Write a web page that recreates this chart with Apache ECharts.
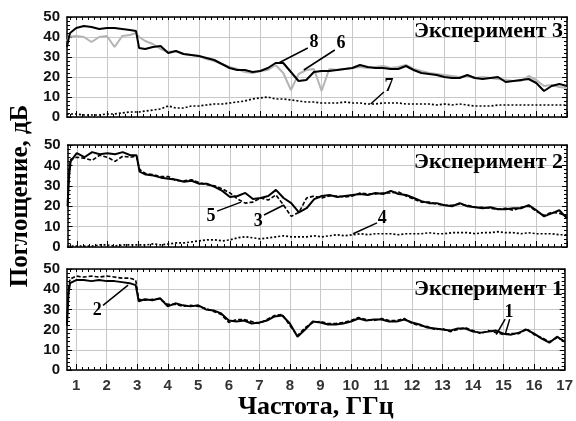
<!DOCTYPE html>
<html><head><meta charset="utf-8">
<script src="https://cdn.jsdelivr.net/npm/echarts@6/dist/echarts.min.js"></script>
<style>html,body{margin:0;padding:0;background:#fff}#c{width:576px;height:421px}</style>
</head><body><div id="c"></div>
<script>
// Frequency grid (GHz), shared by all curves
const freq = [0.7,0.75,0.8,1.0,1.25,1.5,1.75,2.0,2.25,2.5,2.75,2.95,3.05,3.25,3.5,3.75,4.0,4.25,4.5,4.75,5.0,5.25,5.5,5.75,6.0,6.25,6.5,6.75,7.0,7.25,7.5,7.75,8.0,8.25,8.5,8.75,9.0,9.25,9.5,9.75,10.0,10.25,10.5,10.75,11.0,11.25,11.5,11.75,12.0,12.25,12.5,12.75,13.0,13.25,13.5,13.75,14.0,14.25,14.5,14.75,15.0,15.25,15.5,15.75,16.0,16.25,16.5,16.75,17.0];

// Эксперимент 3 (top)
const exp3_curve8 = [35,39,42,44.5,45.5,45,44,44.5,44.5,44,43.5,43,34.5,34,35,35.5,32,33,31.5,31,30.5,29.5,28.5,26.5,24.5,23.5,23.5,22.5,23,24.5,27,27,22.5,18,18.5,22.5,23,23,23.5,24,24.5,26,25,24.5,24.5,24,24,25.5,23.5,22,21.5,21,20,19.5,19.5,21,19.5,19,19.5,20,17.5,18,18.5,19,17,13,15.5,16.5,15.5];
const exp3_curve6 = [38,40,41,40.5,40,37.5,40,40.5,35,40.5,41,42,40,38,36.5,34,32.5,33,31.5,31,30.5,29,28,26.5,25,24,22.5,22,23,23.5,26,22,13.5,21.5,23.5,24,13,24,23.5,24,24.5,25,24.5,25,25.5,24.5,25,26,24,23,22,21.5,21,20.5,20,20.5,19.5,20,19.5,19,18.5,18,18,20.5,18.5,15.5,16,15,14.5];
const exp3_curve7 = [1.5,1.5,1.5,1.5,1,1,1,1.5,1.5,2,2.5,2.5,2.5,3,3.5,4,5.5,4.5,4.5,5.5,5.5,6,6.5,6.5,7,7.5,8,9,9.5,10,9,9,8.5,8,7.5,7.5,7,7,7,7.5,7,7,6.5,6.5,7,7,7,6.5,6.5,6.5,6.5,6,6.5,6,6.5,6,5.5,5.5,5.5,6,6,6,6,6,6,6,6,6,6];

// Эксперимент 2 (middle)
const exp2_solid = [20,35,42,46,44,46.5,45.5,46,45.5,46.5,45,45,37,35.5,35,34,33.5,33,32,32.5,31,31,29.5,27.5,24.5,25,26.5,23.5,24,25,28,24,21.5,17,19,23.5,25,25.5,24.5,25,25.5,26,25.5,26.5,26,27.5,26,25.5,24,22.5,21.5,21.5,20.5,20,21.5,20,19.5,19,19.5,18.5,18.5,19,19,20.5,18,15,16.5,18,14];
const exp2_dashed = [22,38,43,44,43.5,42.5,45,44,42,44.5,44,44.5,38,36,35.5,34.5,34.5,32.5,32.5,33,31.5,30.5,30,28.5,26.5,23.5,21.5,22,24,23,25.5,20.5,15,17,24,25,24,25,25,24.5,25,26.5,26,26,26.5,26.5,27,25,23.5,22,22,21,20.5,20.5,21,20.5,19.5,19.5,19,18.5,19,18,19.5,20,17.5,15.5,17,16.5,15];
const exp2_dotted = [0.5,0.5,0.5,0.5,0.5,0.5,1,1,0.5,1,1,1,1,1,1.5,1,1.5,2,2,2.5,3,3.5,3.5,3,3.5,4.5,5,4.5,4,4.5,5,5.5,5,5,5,5.5,5,5.5,6,5.5,6,6.5,6,6.5,6.5,6.5,6,6.5,6.5,6.5,7,6.5,6.5,7,7,7,6.5,7,7,7.5,7,7,6.5,7,6.5,6.5,6.5,6,6];

// Эксперимент 1 (bottom)
const exp1_solid = [23,38,43,44.5,44.5,44,44.5,44,44,43.5,43,42,34,35,34.5,35.5,31.5,33,32,31.5,32,30,29.5,28,24.5,24,24.5,23,23.5,24.5,26.5,27,23,16.5,20,24,23.5,22.5,22.5,23,24,25.5,24.5,25,25,24,24,25,23.5,22.5,21,20.5,20,19.5,20.5,20.5,19,18.5,19,19.5,18,17.5,18.5,20,18,15.5,13.5,16.5,14];
const exp1_dashed = [22,40,45,46.5,46,46.5,46,46.5,46,45.5,45.5,44.5,35,34.5,35,35,32.5,32.5,31.5,32,31.5,30.5,29,27.5,23.5,25,25,24,23,25,27,27.5,22,17,21,23.5,24,23,23,23.5,24.5,26,25,24.5,25.5,24.5,24.5,25.5,23,22,21.5,20,20.5,19,20,21,19.5,18,19.5,18.5,17.5,18,18,20.5,17.5,16,14,16,14.5];

// Axis ticks
const xTickLabels = [1,2,3,4,5,6,7,8,9,10,11,12,13,14,15,16,17];
const yTicks = [0,10,20,30,40,50];
const panelTitles = ['Эксперимент 3','Эксперимент 2','Эксперимент 1'];

// Curve-number callouts: [label, label position, leader start, leader end] in data units
const notes3 = [['8',[8.75,37.5],[8.55,34.5],[7.6,27]],['6',[9.63,37],[9.43,33.5],[8.42,23.5]],['7',[11.2,15.5],[11.03,12.5],[10.6,6.5]]];
const notes2 = [['5',[5.38,15],[5.58,17.6],[6.36,22]],['3',[6.92,12.5],[7.11,15.7],[7.76,20.6]],['4',[10.97,14],[10.8,11.8],[10.02,6.5]]];
const notes1 = [['2',[1.69,29.7],[1.88,32],[2.7,42]],['1',[15.18,28.7],[15.05,25.2],[14.76,17.5]],['',[15.18,28.7],[15.2,25.2],[15.05,17.5]]];

const minorX = [];
for (let v = 8; v <= 170; v += 2) minorX.push(v / 10);

const grids = [
  {left:67, right:9, top:17, height:100},
  {left:67, right:9, top:145, height:102},
  {left:67, right:9, top:269, height:101}
];
const gridColor = '#c8c8c8';
const serif = "'Liberation Serif','DejaVu Serif',serif";
const sans = "'Liberation Sans',Arial,sans-serif";

const xAxes = [], yAxes = [];
grids.forEach((g, i) => {
  const last = i === 2;
  xAxes.push({
    type:'value', gridIndex:i, min:0.7, max:17, position:'bottom',
    axisLine:{show:true, onZero:false, lineStyle:{color:'#000', width:1.5}},
    axisTick:{show:true, inside:true, length:3, customValues:minorX, lineStyle:{color:'#000'}},
    axisLabel:{show:last, customValues:xTickLabels, margin:8, fontFamily:sans, fontWeight:'bold', fontSize:15, color:'#333'},
    splitLine:{show:false},
    name: last ? 'Частота, ГГц' : '', nameLocation:'middle', nameGap:24,
    nameTextStyle:{fontFamily:serif, fontWeight:'bold', fontSize:26, color:'#000'}
  });
  xAxes.push({
    type:'value', gridIndex:i, min:0.7, max:17, position:'top',
    axisLine:{show:true, onZero:false, lineStyle:{color:'#000', width:1.5}},
    axisTick:{show:true, inside:true, length:3, customValues:minorX, lineStyle:{color:'#000'}},
    axisLabel:{show:false}, splitLine:{show:false}
  });
  xAxes.push({
    type:'value', gridIndex:i, min:0.7, max:17, position:'bottom',
    axisLine:{show:false},
    axisTick:{show:true, inside:true, length:6, customValues:xTickLabels, lineStyle:{color:'#000'}},
    axisLabel:{show:false},
    splitLine:{show:true, lineStyle:{color:gridColor, width:1}}
  });
  yAxes.push({
    type:'value', gridIndex:i, min:0, max:50, interval:10, position:'left',
    axisLine:{show:true, lineStyle:{color:'#000', width:1.5}},
    axisTick:{show:true, inside:true, length:5, customValues:yTicks, lineStyle:{color:'#000'}},
    minorTick:{show:true, splitNumber:5, length:3, lineStyle:{color:'#000'}},
    axisLabel:{show:true, customValues:yTicks, margin:7, fontFamily:sans, fontWeight:'bold', fontSize:15, color:'#111'},
    splitLine:{show:true, lineStyle:{color:gridColor, width:1}},
    name: i === 1 ? 'Поглощение, дБ' : '', nameLocation:'middle', nameGap:34, nameRotate:90,
    nameTextStyle:{fontFamily:serif, fontWeight:'bold', fontSize:25, color:'#000'}
  });
  yAxes.push({
    type:'value', gridIndex:i, min:0, max:50, interval:10, position:'right',
    axisLine:{show:true, lineStyle:{color:'#000', width:1.5}},
    axisTick:{show:true, inside:true, length:5, lineStyle:{color:'#000'}},
    minorTick:{show:true, splitNumber:5, length:3, lineStyle:{color:'#000'}},
    axisLabel:{show:false}, splitLine:{show:false}
  });
});

function pairs(arr){ return freq.map((f, k) => [f, arr[k]]); }

function notesMarks(notes){
  return {
    markLine:{
      silent:true, symbol:['none','none'], animation:false,
      label:{show:false},
      lineStyle:{color:'#000', width:1.5, type:'solid'},
      data: notes.map(n => [{coord:n[2]}, {coord:n[3]}])
    },
    markPoint:{
      silent:true, animation:false, symbol:'rect', symbolSize:1,
      itemStyle:{color:'rgba(0,0,0,0)'},
      label:{show:true, position:'inside', fontFamily:serif, fontWeight:'bold', fontSize:18, color:'#000'},
      data: notes.map(n => ({coord:n[1], label:{formatter:n[0]}}))
    }
  };
}

function line(gi, arr, style, extra){
  return Object.assign({
    type:'line', xAxisIndex:gi*3, yAxisIndex:gi*2, data:pairs(arr),
    showSymbol:false, symbol:'none', animation:false, lineStyle:style, z:3
  }, extra || {});
}

const solid = {color:'#000', width:2};
const dashed = {color:'#000', width:1.6, type:[4,2]};
const dotted = {color:'#000', width:1.7, type:[2,2]};
const gray = {color:'#b4b4b4', width:2};

const series = [
  line(0, exp3_curve6, gray),
  line(0, exp3_curve8, solid),
  line(0, exp3_curve7, dotted, notesMarks(notes3)),
  line(1, exp2_dashed, dashed),
  line(1, exp2_solid, solid),
  line(1, exp2_dotted, dotted, notesMarks(notes2)),
  line(2, exp1_dashed, dashed),
  line(2, exp1_solid, solid, notesMarks(notes1))
];

const titles = panelTitles.map((t, i) => ({
  text:t, right:13, top:[20,151,278][i], padding:0,
  textStyle:{fontFamily:serif, fontWeight:'bold', fontSize:22, color:'#000'}
}));

const chart = echarts.init(document.getElementById('c'), null, {renderer:'canvas'});
chart.setOption({
  backgroundColor:'#fff',
  animation:false,
  title:titles,
  grid:grids,
  xAxis:xAxes,
  yAxis:yAxes,
  series:series
});
</script>
</body></html>
